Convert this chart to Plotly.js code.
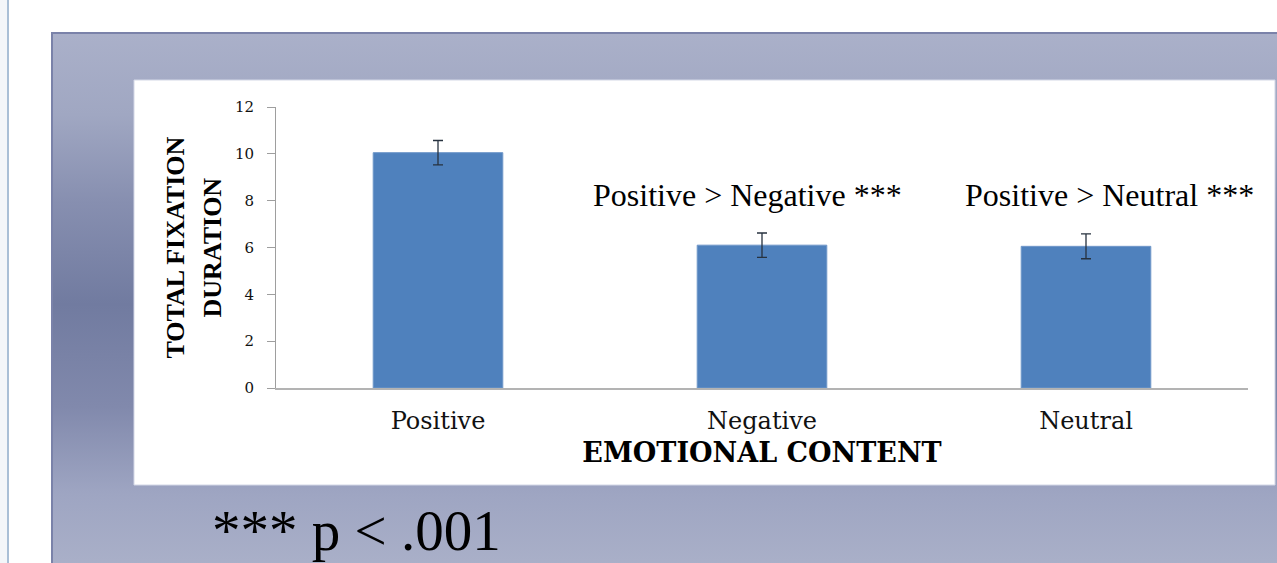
<!DOCTYPE html>
<html>
<head>
<meta charset="utf-8">
<script src="https://cdn.plot.ly/plotly-3.0.1.min.js"></script>
<style>
  html, body { margin: 0; padding: 0; background: #ffffff; }
  #wrap { position: relative; width: 1277px; height: 563px; overflow: hidden; background: #ffffff; }
  #edge { position: absolute; left: 0; top: 0; width: 7px; height: 563px; background: #f3f6f9; }
  #edgeline { position: absolute; left: 7px; top: 0; width: 2px; height: 563px; background: #a9bfd6; }
  #panel {
    position: absolute; left: 51px; top: 32px; width: 1240px; height: 540px;
    border-top: 2px solid #7a82a9; border-left: 2px solid #7a82a9;
    background: linear-gradient(to bottom, #aab0c9 0%, #a0a7c2 15%, #878fb0 31%, #717ba0 50%, #8189ac 69%, #9ea5c2 85%, #abb1c9 100%);
  }
  #chart { position: absolute; left: 0; top: 0; width: 1277px; height: 563px; }
</style>
</head>
<body>
<div id="wrap">
  <div id="edge"></div>
  <div id="edgeline"></div>
  <div id="panel"></div>
  <div id="chart"></div>
</div>
<script>
// ---- data ----
var categories = ["Positive", "Negative", "Neutral"];
var fixationDuration = [10.05, 6.10, 6.05];
var errorValues = [0.52, 0.52, 0.53];
var yTickValues = [0, 2, 4, 6, 8, 10, 12];
var comparisonLabels = ["Positive > Negative ***", "Positive > Neutral ***"];
var comparisonTargets = ["Negative", "Neutral"];
var significanceNote = "*** p < .001";
var yTitleLines = ["TOTAL FIXATION", "DURATION"];
var xTitle = "EMOTIONAL CONTENT";

// ---- layout geometry (pixels) ----
var W = 1277, H = 563;
var plotL = 276, plotR = 1248, plotT = 107, plotB = 388;
var pw = plotR - plotL, ph = plotB - plotT;
function px2x(p) { return (p - plotL) / pw; }
function py2y(p) { return (plotB - p) / ph; }

var trace = {
  type: "bar",
  x: categories,
  y: fixationDuration,
  width: 0.4,
  marker: { color: "#4f81bd", line: { color: "#6f97c9", width: 1 } },
  error_y: { type: "data", array: errorValues, visible: true, color: "#27323f", thickness: 1.3, width: 5 },
  hoverinfo: "x+y"
};

var serif = "Liberation Serif, Times New Roman, serif";
var wideSerif = "DejaVu Serif, serif";

var annotations = comparisonLabels.map(function (t, i) {
  return {
    text: t, xref: "x", yref: "y", x: comparisonTargets[i], y: 8.24,
    xshift: i === 0 ? -15 : 23, showarrow: false,
    font: { family: serif, size: 32, color: "#000000" },
    xanchor: "center", yanchor: "middle"
  };
});
annotations.push({
  text: significanceNote, xref: "paper", yref: "paper",
  x: px2x(356), y: py2y(530), showarrow: false,
  font: { family: serif, size: 57, color: "#000000" },
  xanchor: "center", yanchor: "middle"
});
// y axis title, two lines spaced as in the reference
var yTitleX = [175, 212];
yTitleLines.forEach(function (t, i) {
  annotations.push({
    text: "<b>" + t + "</b>", xref: "paper", yref: "paper",
    x: px2x(yTitleX[i]), y: 0.5, textangle: -90, showarrow: false,
    font: { family: serif, size: 26, color: "#000000" },
    xanchor: "center", yanchor: "middle"
  });
});

var layout = {
  width: W, height: H,
  margin: { l: plotL, r: W - plotR, t: plotT, b: H - plotB, pad: 0 },
  paper_bgcolor: "rgba(0,0,0,0)",
  plot_bgcolor: "rgba(0,0,0,0)",
  showlegend: false,
  xaxis: {
    type: "category",
    range: [-0.5, 2.5],
    showline: true, linecolor: "#b3b3b3", linewidth: 1.5,
    ticks: "", showgrid: false, zeroline: false,
    tickfont: { family: wideSerif, size: 24, color: "#111111" },
    ticklabelstandoff: 10,
    title: { text: "<b>" + xTitle + "</b>", font: { family: wideSerif, size: 27, color: "#000000" }, standoff: 10 },
    fixedrange: true
  },
  yaxis: {
    range: [0, 12],
    tickvals: yTickValues,
    showline: true, linecolor: "#9e9e9e", linewidth: 1,
    ticks: "outside", ticklen: 8, tickcolor: "#9e9e9e", tickwidth: 1,
    showgrid: false, zeroline: false,
    tickfont: { family: wideSerif, size: 15, color: "#111111" },
    ticklabelstandoff: 10,
    fixedrange: true
  },
  shapes: [{
    type: "rect", xref: "paper", yref: "paper", layer: "below",
    x0: px2x(134), x1: px2x(1275), y0: py2y(485), y1: py2y(80),
    fillcolor: "#ffffff", line: { color: "#d3d7e6", width: 1 }
  }],
  annotations: annotations
};

Plotly.newPlot("chart", [trace], layout, { displayModeBar: false });
</script>
</body>
</html>
